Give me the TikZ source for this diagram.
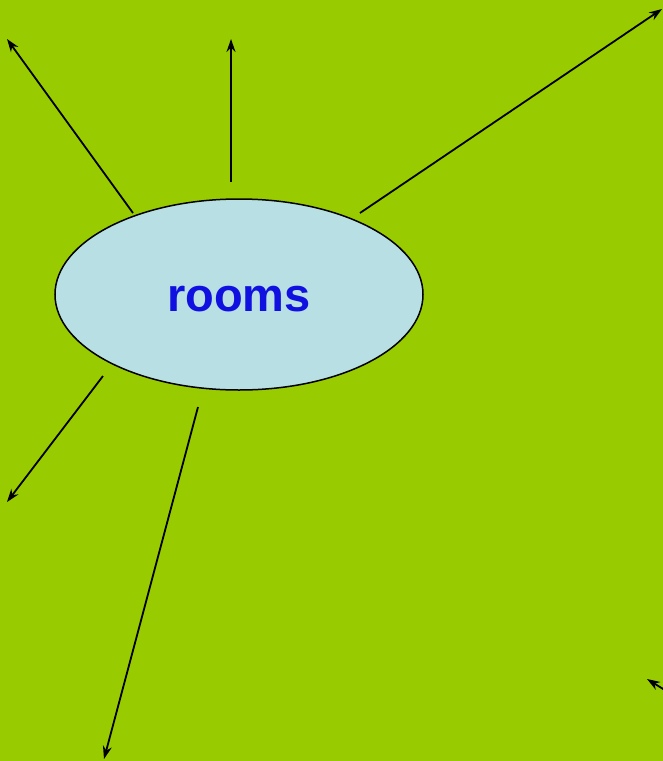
\documentclass[tikz,border=0pt]{standalone}
\usepackage{fontspec}
\setmainfont{Liberation Sans}
\usetikzlibrary{shapes.geometric,arrows.meta}
\definecolor{bggreen}{RGB}{153,204,0}
\definecolor{ellfill}{RGB}{184,223,227}
\definecolor{txtblue}{RGB}{16,16,224}
\begin{document}
\begin{tikzpicture}[x=1pt,y=-1pt,
  arr/.style={draw=black,line width=1.8pt,-{Stealth[length=13pt,width=9pt]}},
  bubble/.style={ellipse,draw=black,line width=1.5pt,fill=ellfill,minimum width=368pt,minimum height=191pt,inner sep=0pt}]
\fill[bggreen] (0,0) rectangle (663,761);
\useasboundingbox (0,0) rectangle (663,761);
\node[bubble] (rooms) at (239,294.5) {};
\node[font=\bfseries\fontsize{47}{56}\selectfont,text=txtblue] (lbl) at (239,299) {rooms};
\coordinate (s1) at (133,213); \coordinate (e1) at (7,39);
\coordinate (s2) at (231,182); \coordinate (e2) at (231,39);
\coordinate (s3) at (360,213); \coordinate (e3) at (662,9);
\coordinate (s4) at (103,376); \coordinate (e4) at (7,502);
\coordinate (s5) at (198,407); \coordinate (e5) at (104,759);
\coordinate (s6) at (668,692); \coordinate (e6) at (647,679);
\draw[arr] (s1) -- (e1);
\draw[arr] (s2) -- (e2);
\draw[arr] (s3) -- (e3);
\draw[arr] (s4) -- (e4);
\draw[arr] (s5) -- (e5);
\draw[arr] (s6) -- (e6);
\end{tikzpicture}
\end{document}
